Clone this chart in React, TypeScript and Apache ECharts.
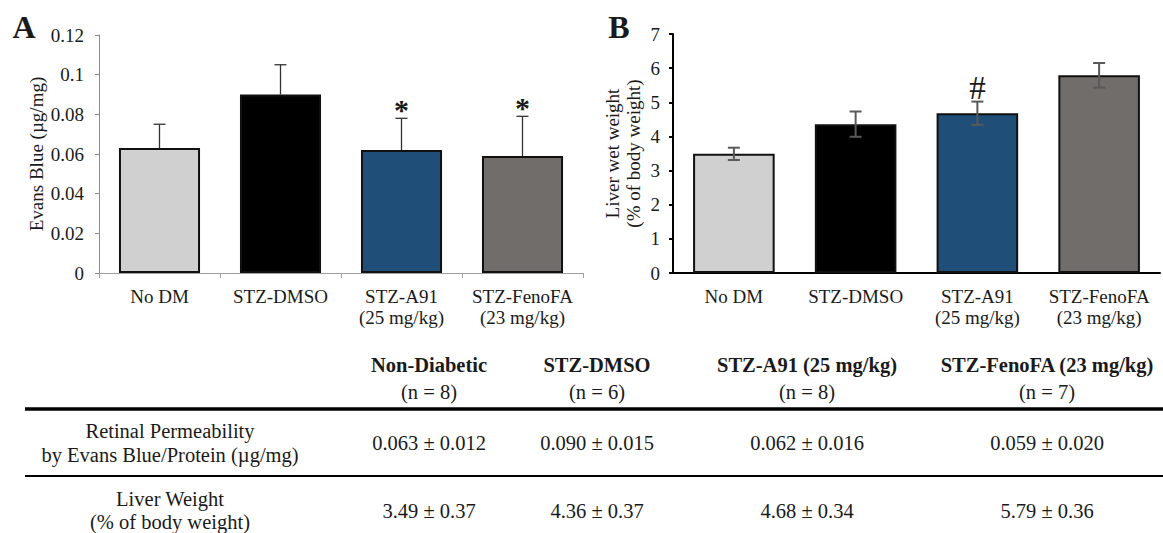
import React, { useEffect, useRef } from 'react';
import * as echarts from 'echarts';

const categories = ['No DM', 'STZ-DMSO', 'STZ-A91\n(25 mg/kg)', 'STZ-FenoFA\n(23 mg/kg)'];
const evansMean = [0.063, 0.09, 0.062, 0.059];
const evansSD = [0.012, 0.015, 0.016, 0.02];
const evansMarks = ['', '', '*', '*'];
const evansTicks = [0, 0.12, 0.02];
const liverMean = [3.49, 4.36, 4.68, 5.79];
const liverBarErr = [0.18, 0.37, 0.34, 0.36];
const liverSD = [0.37, 0.37, 0.34, 0.36];
const liverMarks = ['', '', '#', ''];
const liverTicks = [0, 7, 1];
const tableGroups = ['Non-Diabetic', 'STZ-DMSO', 'STZ-A91 (25 mg/kg)', 'STZ-FenoFA (23 mg/kg)'];
const tableN = ['(n = 8)', '(n = 6)', '(n = 8)', '(n = 7)'];
const rowLabels = [
  ['Retinal Permeability', 'by Evans Blue/Protein (\u00b5g/mg)'],
  ['Liver Weight', '(% of body weight)'],
];

const FONT = "'Liberation Serif', 'Times New Roman', serif";
const INK = '#1a1a1a';

function txt(x: number, y: number, text: string, size: number, weight: string = 'normal', extra: any = {}) {
  return {
    type: 'text',
    x,
    y,
    silent: true,
    style: {
      text,
      fill: INK,
      fontSize: size,
      fontFamily: FONT,
      fontWeight: weight,
      align: 'center',
      verticalAlign: 'middle',
      textAlign: 'center',
      textVerticalAlign: 'middle',
      ...extra,
    },
  };
}

function errorSeries(idx: number, means: number[], errs: number[], marks: string[], o: any) {
  return {
    type: 'custom',
    xAxisIndex: idx,
    yAxisIndex: idx,
    z: 10,
    silent: true,
    data: means.map((m, i) => [i, m, errs[i]]),
    renderItem: (params: any, api: any) => {
      const i = api.value(0);
      const m = api.value(1);
      const e = api.value(2);
      const mid = api.coord([i, m]);
      const top = api.coord([i, m + e]);
      const bot = o.twoSided ? api.coord([i, m - e]) : mid;
      const st = { stroke: o.color, lineWidth: o.lw };
      const x = mid[0];
      const children: any[] = [
        { type: 'line', shape: { x1: x, y1: bot[1], x2: x, y2: top[1] }, style: st },
        { type: 'line', shape: { x1: x - o.cap, y1: top[1], x2: x + o.cap, y2: top[1] }, style: st },
      ];
      if (o.twoSided) {
        children.push({ type: 'line', shape: { x1: x - o.cap, y1: bot[1], x2: x + o.cap, y2: bot[1] }, style: st });
      }
      const mk = marks[params.dataIndex];
      if (mk) {
        children.push({
          type: 'text',
          x,
          y: top[1] - o.markGap,
          style: {
            text: mk,
            fill: INK,
            fontSize: o.markSize,
            fontFamily: FONT,
            fontWeight: o.markWeight,
            align: 'center',
            verticalAlign: 'middle',
            textAlign: 'center',
            textVerticalAlign: 'middle',
          },
        });
      }
      return { type: 'group', children };
    },
  };
}

export default function App() {
  const ref = useRef<HTMLDivElement>(null);
  useEffect(() => {
    if (!ref.current) return;
    const chart = echarts.init(ref.current, null, { renderer: 'svg' });
    const colors = ['#d0d0d0', '#000000', '#1f4e79', '#706d6b'];
    const axisLabel = { fontFamily: FONT, fontSize: 19, color: INK };
    const xLabel = { ...axisLabel, lineHeight: 21, margin: 13, interval: 0 };

    const colX = [429, 597, 807, 1047];
    const labelX = 170;
    const TF = 20.5;
    const graphics: any[] = [
      txt(24, 27, 'A', 32, 'bold'),
      txt(619, 27, 'B', 32, 'bold'),
      { type: 'line', silent: true, shape: { x1: 25, y1: 409, x2: 1163, y2: 409 }, style: { stroke: '#000', lineWidth: 3.5 } },
      { type: 'line', silent: true, shape: { x1: 25, y1: 476, x2: 1163, y2: 476 }, style: { stroke: '#000', lineWidth: 2 } },
      txt(labelX, 431, rowLabels[0][0], TF),
      txt(labelX, 455, rowLabels[0][1], TF),
      txt(labelX, 499, rowLabels[1][0], TF),
      txt(labelX, 522, rowLabels[1][1], TF),
    ];
    tableGroups.forEach((g, i) => {
      graphics.push(txt(colX[i], 365, g, TF, 'bold'));
      graphics.push(txt(colX[i], 392, tableN[i], TF));
      graphics.push(txt(colX[i], 443, `${evansMean[i].toFixed(3)} \u00b1 ${evansSD[i].toFixed(3)}`, TF));
      graphics.push(txt(colX[i], 511, `${liverMean[i].toFixed(2)} \u00b1 ${liverSD[i].toFixed(2)}`, TF));
    });

    chart.setOption({
      animation: false,
      backgroundColor: '#ffffff',
      grid: [
        { left: 99, top: 35, width: 484, height: 238 },
        { left: 673, top: 34, width: 487, height: 239 },
      ],
      xAxis: [
        {
          type: 'category',
          gridIndex: 0,
          data: categories,
          axisLine: { lineStyle: { color: '#a0a0a0', width: 1 } },
          axisTick: { show: true, length: 5, lineStyle: { color: '#a0a0a0' } },
          axisLabel: xLabel,
        },
        {
          type: 'category',
          gridIndex: 1,
          data: categories,
          axisLine: { lineStyle: { color: '#000', width: 2 } },
          axisTick: { show: false },
          axisLabel: xLabel,
        },
      ],
      yAxis: [
        {
          type: 'value',
          gridIndex: 0,
          min: evansTicks[0],
          max: evansTicks[1],
          interval: evansTicks[2],
          splitLine: { show: false },
          axisLine: { show: true, lineStyle: { color: '#8a8a8a', width: 1 } },
          axisTick: { show: true, length: 4, lineStyle: { color: '#8a8a8a' } },
          axisLabel: { ...axisLabel, margin: 15 },
          name: 'Evans Blue (\u00b5g/mg)',
          nameLocation: 'middle',
          nameGap: 53,
          nameTextStyle: { fontFamily: FONT, fontSize: 19, color: INK },
        },
        {
          type: 'value',
          gridIndex: 1,
          min: liverTicks[0],
          max: liverTicks[1],
          interval: liverTicks[2],
          splitLine: { show: false },
          axisLine: { show: true, lineStyle: { color: '#000', width: 2 } },
          axisTick: { show: true, length: 4, lineStyle: { color: '#000', width: 2 } },
          axisLabel: { ...axisLabel, margin: 13 },
          name: 'Liver wet weight\n(% of body weight)',
          nameLocation: 'middle',
          nameGap: 29,
          nameTextStyle: { fontFamily: FONT, fontSize: 19, color: INK, lineHeight: 21 },
        },
      ],
      series: [
        {
          type: 'bar',
          xAxisIndex: 0,
          yAxisIndex: 0,
          barWidth: '67%',
          silent: true,
          data: evansMean.map((v, i) => ({ value: v, itemStyle: { color: colors[i], borderColor: '#111', borderWidth: 2 } })),
        },
        errorSeries(0, evansMean, evansSD, evansMarks, {
          twoSided: false, color: '#333', lw: 1.3, cap: 6, markGap: 9, markSize: 30, markWeight: 'bold',
        }),
        {
          type: 'bar',
          xAxisIndex: 1,
          yAxisIndex: 1,
          barWidth: '67%',
          silent: true,
          data: liverMean.map((v, i) => ({ value: v, itemStyle: { color: colors[i], borderColor: '#111', borderWidth: 2 } })),
        },
        errorSeries(1, liverMean, liverBarErr, liverMarks, {
          twoSided: true, color: '#595959', lw: 2, cap: 6, markGap: 14, markSize: 33, markWeight: 'normal',
        }),
      ],
      graphic: graphics,
    });
    return () => chart.dispose();
  }, []);
  return <div ref={ref} style={{ position: 'fixed', left: 0, top: 0, width: 1163, height: 533 }} />;
}
